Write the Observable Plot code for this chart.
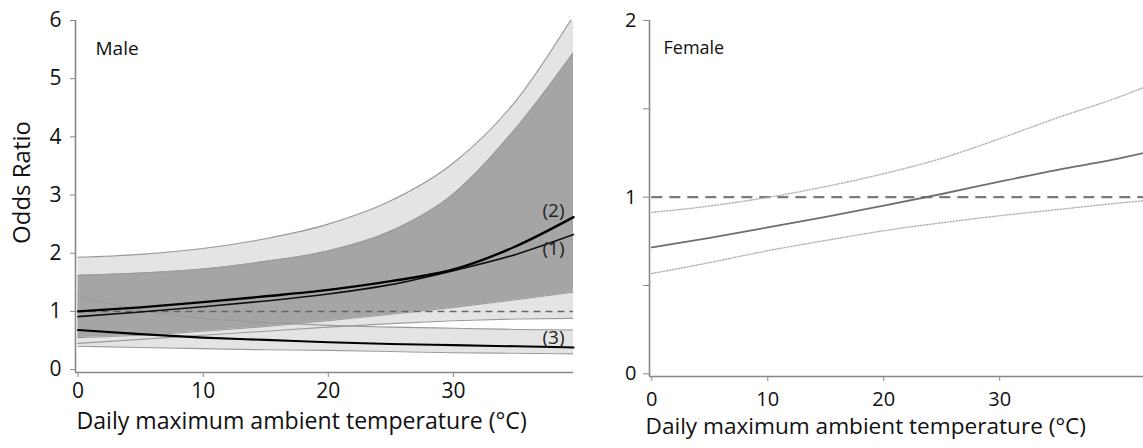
<!DOCTYPE html>
<html>
<head>
<meta charset="utf-8">
<script src="https://cdn.jsdelivr.net/npm/d3@7"></script>
<script src="https://cdn.jsdelivr.net/npm/@observablehq/plot@0.6"></script>
<style>
  html, body { margin: 0; padding: 0; background: #fff; }
  #wrap { position: relative; width: 1143px; height: 448px; overflow: hidden; }
  #male { position: absolute; left: 0; top: 0; }
  #female { position: absolute; left: 590px; top: 0; }
</style>
</head>
<body>
<div id="wrap"><div id="male"></div><div id="female"></div></div>
<script>
// ---------- Male panel data ----------
const maleTemp = [0, 5, 10, 15, 20, 25, 30, 35, 39.6];
const maleLine1 = [0.91, 0.99, 1.08, 1.18, 1.30, 1.46, 1.70, 1.98, 2.32];
const maleLine2 = [1.00, 1.07, 1.16, 1.26, 1.37, 1.52, 1.72, 2.12, 2.62];
const maleLine3 = [0.68, 0.61, 0.55, 0.51, 0.47, 0.44, 0.42, 0.40, 0.38];
const band1Hi = [1.93, 1.98, 2.08, 2.25, 2.50, 2.90, 3.55, 4.62, 6.08];
const band1Lo = [0.45, 0.52, 0.59, 0.66, 0.73, 0.79, 0.84, 0.87, 0.88];
const band2Hi = [1.62, 1.66, 1.73, 1.86, 2.04, 2.38, 3.02, 4.15, 5.45];
const band2Lo = [0.55, 0.59, 0.66, 0.74, 0.84, 0.95, 1.07, 1.20, 1.33];
const band3Hi = [1.27, 1.02, 0.88, 0.81, 0.76, 0.73, 0.71, 0.69, 0.68];
const band3Lo = [0.40, 0.38, 0.36, 0.34, 0.33, 0.31, 0.29, 0.28, 0.27];
const curveLabels = ["(2)", "(1)", "(3)"];
const curveLabelX = [38, 38, 38];
const curveLabelY = [2.73, 2.08, 0.55];
const maleYTicks = [0, 1, 2, 3, 4, 5, 6];
const xTicks = [0, 10, 20, 30];

// ---------- Female panel data ----------
const femaleTemp = [0, 5, 10, 15, 20, 25, 30, 35, 40, 42.4];
const femaleOR = [0.716, 0.77, 0.829, 0.889, 0.952, 1.018, 1.088, 1.155, 1.215, 1.25];
const femaleHi = [0.914, 0.95, 0.999, 1.06, 1.133, 1.22, 1.331, 1.45, 1.56, 1.62];
const femaleLo = [0.568, 0.63, 0.697, 0.755, 0.81, 0.855, 0.895, 0.93, 0.965, 0.98];
const femaleYTicks = [0, 0.5, 1, 1.5, 2];

const xTitle = "Daily maximum ambient temperature (°C)";
const yTitle = "Odds Ratio";

const FONT = "'Open Sans', sans-serif";
const AXIS = "#888";
const LIGHT = "#e4e4e4";
const DARK = "#a5a5a5";
const EDGE = "#9a9a9a";

const band = (lo, hi) => maleTemp.map((t, i) => ({t, lo: lo[i], hi: hi[i]}));
const ser = (vals) => maleTemp.map((t, i) => ({t, v: vals[i]}));
const b1 = band(band1Lo, band1Hi), b2 = band(band2Lo, band2Hi), b3 = band(band3Lo, band3Hi);
const curve = "monotone-x";
const edge = (arr, key) => Plot.line(arr, {x: "t", y: key, stroke: EDGE, strokeWidth: 1.1, curve, clip: true});
const labels = curveLabels.map((s, i) => ({s, x: curveLabelX[i], y: curveLabelY[i]}));

const male = Plot.plot({
  width: 590, height: 448,
  marginLeft: 75, marginRight: 17, marginTop: 20, marginBottom: 76,
  x: {domain: [-0.2, 39.6]},
  y: {domain: [-0.05, 6]},
  style: {fontFamily: FONT, color: "#111", background: "#fff", overflow: "visible"},
  marks: [
    Plot.areaY(b1, {x: "t", y1: "lo", y2: "hi", fill: LIGHT, curve, clip: true}),
    Plot.areaY(b3, {x: "t", y1: "lo", y2: "hi", fill: LIGHT, curve, clip: true}),
    Plot.areaY(b2, {x: "t", y1: "lo", y2: "hi", fill: DARK, curve, clip: true}),
    edge(b1, "hi"), edge(b1, "lo"), edge(b3, "hi"), edge(b3, "lo"), edge(b2, "hi"), edge(b2, "lo"),
    Plot.ruleY([1], {x1: 0, x2: 39.6, stroke: "#666", strokeWidth: 1.5, strokeDasharray: "7,5"}),
    Plot.line(ser(maleLine1), {x: "t", y: "v", stroke: "#111", strokeWidth: 1.6, curve}),
    Plot.line(ser(maleLine2), {x: "t", y: "v", stroke: "#000", strokeWidth: 2.4, curve}),
    Plot.line(ser(maleLine3), {x: "t", y: "v", stroke: "#000", strokeWidth: 2.1, curve}),
    Plot.text(labels, {x: "x", y: "y", text: "s", fontSize: 19, fill: "#222"}),
    Plot.ruleX([-0.2], {y1: -0.05, y2: 6, stroke: AXIS, strokeWidth: 1.6}),
    Plot.ruleY([-0.05], {x1: -0.2, x2: 39.6, stroke: AXIS, strokeWidth: 1.6}),
    Plot.axisY({ticks: maleYTicks, tickSize: 5, tickPadding: 9, stroke: AXIS, fontSize: 21, label: null, tickFormat: d => String(d)}),
    Plot.axisX({ticks: xTicks, tickSize: 5, tickPadding: 6, stroke: AXIS, fontSize: 21, label: null, tickFormat: d => String(d)}),
    Plot.text(["Male"], {frameAnchor: "top-left", dx: 20, dy: 21, textAnchor: "start", fontSize: 19, fill: "#111"}),
    Plot.text([yTitle], {frameAnchor: "left", dx: -53, dy: -14, rotate: -90, textAnchor: "middle", fontSize: 24, fill: "#111"}),
    Plot.text([xTitle], {frameAnchor: "bottom-left", dx: 1, dy: 56, textAnchor: "start", fontSize: 23.1, fill: "#111"})
  ]
});
document.getElementById("male").append(male);

const fser = (vals) => femaleTemp.map((t, i) => ({t, v: vals[i]}));
const female = Plot.plot({
  width: 553, height: 448,
  marginLeft: 59, marginRight: 0, marginTop: 20, marginBottom: 72,
  x: {domain: [-0.2, 42.4]},
  y: {domain: [-0.015, 2]},
  style: {fontFamily: FONT, color: "#111", background: "#fff", overflow: "visible"},
  marks: [
    Plot.ruleY([1], {x1: 0, x2: 42.4, stroke: "#7a7a7a", strokeWidth: 2.2, strokeDasharray: "11,7"}),
    Plot.line(fser(femaleHi), {x: "t", y: "v", stroke: "#b0b0b0", strokeWidth: 1.4, strokeDasharray: "1.2,1.8", curve}),
    Plot.line(fser(femaleLo), {x: "t", y: "v", stroke: "#b0b0b0", strokeWidth: 1.4, strokeDasharray: "1.2,1.8", curve}),
    Plot.line(fser(femaleOR), {x: "t", y: "v", stroke: "#6e6e6e", strokeWidth: 1.8, curve}),
    Plot.ruleX([-0.2], {y1: -0.015, y2: 2, stroke: AXIS, strokeWidth: 1.6}),
    Plot.ruleY([-0.015], {x1: -0.2, x2: 42.4, stroke: AXIS, strokeWidth: 1.6}),
    Plot.axisY({ticks: femaleYTicks, tickSize: 6, tickPadding: 7, stroke: AXIS, fontSize: 20, label: null,
      tickFormat: d => Number.isInteger(d) ? String(d) : ""}),
    Plot.axisX({ticks: xTicks, tickSize: 5, tickPadding: 10, stroke: AXIS, fontSize: 20, label: null, tickFormat: d => String(d)}),
    Plot.text(["Female"], {frameAnchor: "top-left", dx: 14, dy: 21, textAnchor: "start", fontSize: 18, fill: "#111"}),
    Plot.text([xTitle], {frameAnchor: "bottom-left", dx: -4, dy: 57, textAnchor: "start", fontSize: 22.6, fill: "#111"})
  ]
});
document.getElementById("female").append(female);
</script>
</body>
</html>
